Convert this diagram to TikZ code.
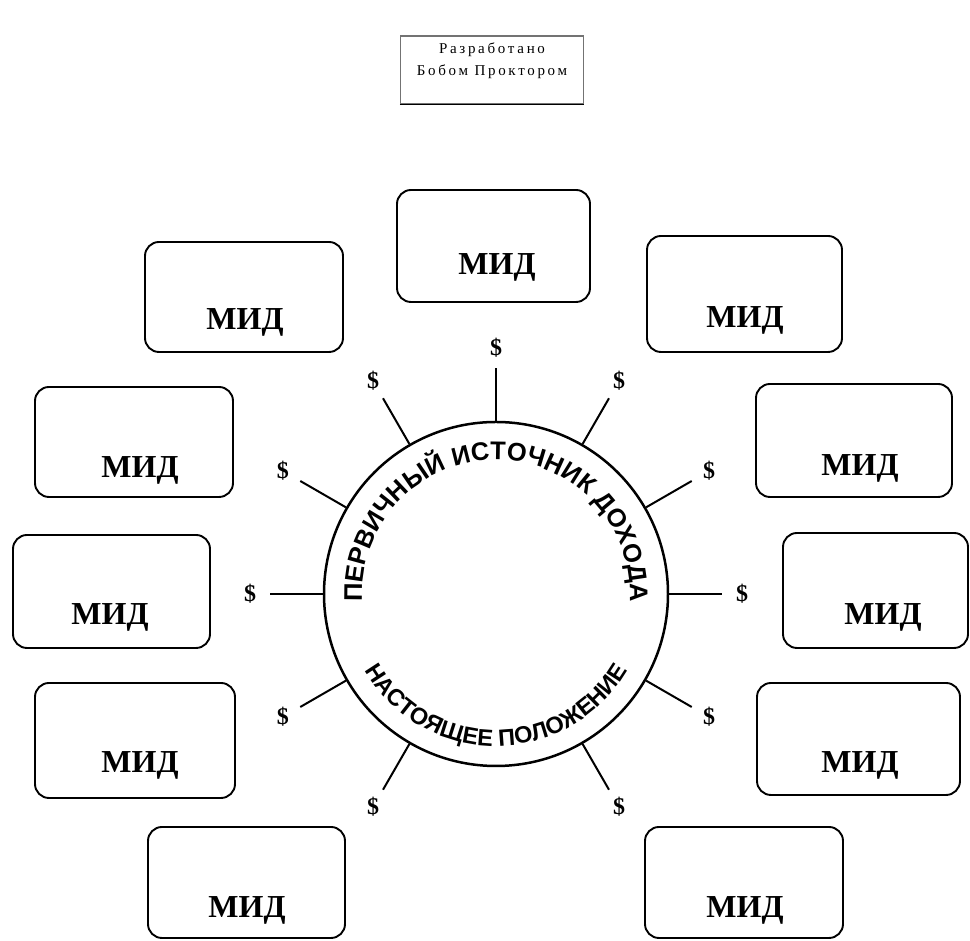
\documentclass[tikz,border=0pt]{standalone}
\usepackage{fontspec}
\setmainfont{Liberation Serif}
\setsansfont{Liberation Sans}
\usetikzlibrary{calc,decorations.text}
\begin{document}
\begin{tikzpicture}[x=1pt,y=1pt,
  midbox/.style={draw, line width=1.9pt, rounded corners=14pt},
  midtext/.style={font=\bfseries\fontsize{32}{32}\selectfont, inner sep=0pt},
  spoke/.style={line width=2pt},
  dollar/.style={font=\bfseries\fontsize{24}{24}\selectfont, inner sep=0pt},
  ring/.style={circle, draw, line width=2.5pt, minimum size=344pt, inner sep=0pt},
  credit/.style={draw=black!55, line width=1.2pt, minimum width=183pt, minimum height=68pt, inner sep=0pt},
  credittext/.style={font=\fontsize{15}{22}\selectfont\addfontfeatures{LetterSpace=18}, align=center, inner sep=0pt},
]
\useasboundingbox (0,0) rectangle (970,941);

% credit box
\node[credit] (cr) at (492,871) {};
\draw[line width=1.6pt] (cr.south west) -- (cr.south east);
\node[credittext] (crt) at (492,880) {Разработано\\Бобом Проктором};

% ring
\node[ring] (c) at (496,347) {};

% spokes and dollars
\foreach \a in {90,60,30,0,-30,-60,-120,-150,180,150,120} {
  \coordinate (e\a) at ($(c.center)+(\a:226)$);
  \draw[spoke] (c.\a) -- (e\a);
  \node[dollar] (d\a) at ($(c.center)+(\a:246)$) {\$};
}

% circle texts
\path[decorate, decoration={text along path, text align=center,
  text={|\sffamily\bfseries\fontsize{25.5}{25.5}\selectfont|ПЕРВИЧНЫЙ ИСТОЧНИК ДОХОДА}}]
  (c.center) ++(210:134) arc[start angle=210, end angle=-30, radius=134];
\path[decorate, decoration={text along path, text align=center,
  text={|\sffamily\bfseries\fontsize{23.5}{23.5}\selectfont|НАСТОЯЩЕЕ ПОЛОЖЕНИЕ}}]
  (c.center) ++(190:152) arc[start angle=190, end angle=350, radius=152];

% boxes
\foreach \n/\xa/\ya/\xb/\yb/\tx/\ty in {
  1/397/639/590/751/497/674,
  2/145/589/343/699/245/619,
  3/647/589/842/705/745/621,
  4/35/444/233/554/140/471,
  5/756/444/952/557/860/473,
  6/13/293/210/406/110/324,
  7/783/293/968/408/883/324,
  8/35/143/235/258/140/176,
  9/757/146/960/258/860/176,
  10/148/3/345/114/247/31,
  11/645/3/843/114/745/31} {
  \draw[midbox] (\xa,\ya) rectangle (\xb,\yb);
  \node[midtext] (t\n) at (\tx,\ty) {МИД};
}
\end{tikzpicture}
\end{document}
